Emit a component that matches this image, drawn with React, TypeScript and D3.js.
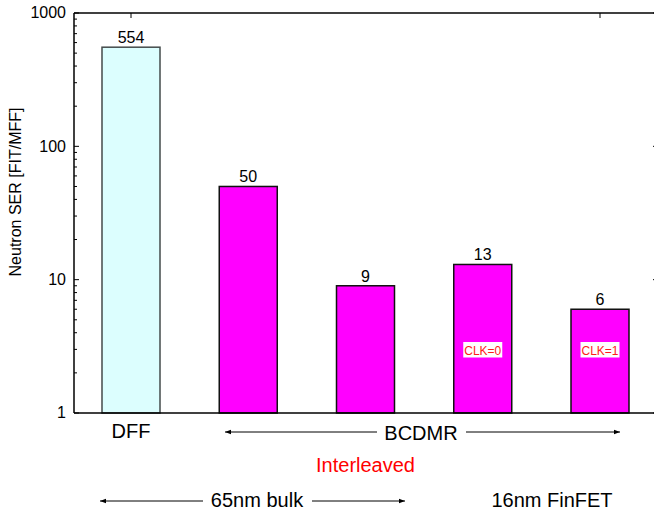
import React from "react";
import * as d3 from "d3";

const categories = ["DFF", "BCDMR 65nm", "BCDMR Interleaved", "BCDMR 16nm CLK=0", "BCDMR 16nm CLK=1"];
const values = [554, 50, 9, 13, 6];
const valueLabels = ["554", "50", "9", "13", "6"];
const fills = ["#dcfefe", "#ff00ff", "#ff00ff", "#ff00ff", "#ff00ff"];
const strokes = ["#444b4b", "#111111", "#111111", "#111111", "#111111"];
const innerLabels = ["", "", "", "CLK=0", "CLK=1"];
const yTicks = [1, 10, 100, 1000];
const yTickLabels = ["1", "10", "100", "1000"];

const W = 654;
const H = 512;
const FONT = "'Liberation Sans', Arial, Helvetica, sans-serif";

export default function App() {
  const y = d3.scaleLog().domain([1, 1000]).range([413, 13]);
  const x = d3.scalePoint<string>().domain(categories).range([131, 600]);
  const barW = 58;
  const left = 74;
  const right = 658;

  const minor: number[] = [];
  for (let dec = 1; dec < 1000; dec *= 10) {
    for (let k = 2; k <= 9; k++) minor.push(dec * k);
  }

  const arrow = (x1: number, x2: number, yy: number, gapL: number, gapR: number, key: string) => (
    <g key={key} stroke="#000" strokeWidth={1}>
      <line x1={x1} y1={yy} x2={gapL} y2={yy} />
      <line x1={gapR} y1={yy} x2={x2} y2={yy} />
      <path d={`M${x1},${yy} l6,-2.2 l0,4.4 z`} fill="#000" stroke="none" />
      <path d={`M${x2},${yy} l-6,-2.2 l0,4.4 z`} fill="#000" stroke="none" />
    </g>
  );

  return (
    <svg width={W} height={H} style={{ position: "absolute", left: 0, top: 0 }} fontFamily={FONT}>
      <rect x={0} y={0} width={W} height={H} fill="#fff" />
      {/* bars */}
      {categories.map((c, i) => {
        const cx = x(c)!;
        const top = y(values[i]);
        return (
          <g key={c}>
            <rect x={cx - barW / 2} y={top} width={barW} height={y(1) - top} fill={fills[i]} stroke={strokes[i]} strokeWidth={1.5} />
            <text x={cx} y={top - 4} textAnchor="middle" fontSize={16} fill="#000">{valueLabels[i]}</text>
            {innerLabels[i] && (
              <g>
                <rect x={cx - 19.5} y={342} width={39} height={15.5} fill="#fff" />
                <text x={cx} y={354.5} textAnchor="middle" fontSize={12} fill="#ff1a1a">{innerLabels[i]}</text>
              </g>
            )}
          </g>
        );
      })}
      {/* axes frame */}
      <line x1={left} y1={13} x2={left} y2={413} stroke="#000" strokeWidth={1.5} />
      <line x1={left} y1={413} x2={right} y2={413} stroke="#000" strokeWidth={1.5} />
      <line x1={left} y1={13} x2={right} y2={13} stroke="#000" strokeWidth={1.5} />
      <line x1={right} y1={13} x2={right} y2={413} stroke="#000" strokeWidth={1.5} />
      {/* top ticks */}
      {[categories[0], categories[4]].map((c) => (
        <line key={"tt" + c} x1={x(c)!} y1={13} x2={x(c)!} y2={18} stroke="#000" strokeWidth={1} />
      ))}
      {/* y ticks */}
      {yTicks.map((t, i) => (
        <g key={"yt" + t}>
          <line x1={left} y1={y(t)} x2={left + 5} y2={y(t)} stroke="#000" strokeWidth={1} />
          <line x1={right} y1={y(t)} x2={right - 5} y2={y(t)} stroke="#000" strokeWidth={1} />
          <text x={66} y={y(t)} dy="0.33em" textAnchor="end" fontSize={16} fill="#000">{yTickLabels[i]}</text>
        </g>
      ))}
      {minor.map((t) => (
        <g key={"mt" + t}>
          <line x1={left} y1={y(t)} x2={left + 3} y2={y(t)} stroke="#000" strokeWidth={1} />
          <line x1={right} y1={y(t)} x2={right - 3} y2={y(t)} stroke="#000" strokeWidth={1} />
        </g>
      ))}
      <text transform="translate(21,192) rotate(-90)" textAnchor="middle" fontSize={16} fill="#000">Neutron SER [FIT/MFF]</text>
      {/* bottom annotations */}
      <text x={x(categories[0])!} y={438} textAnchor="middle" fontSize={20} fill="#000">DFF</text>
      {arrow(225, 620, 432, 377, 466, "a1")}
      <text x={421} y={440} textAnchor="middle" fontSize={20} fill="#000">BCDMR</text>
      <text x={x(categories[2])!} y={472} textAnchor="middle" fontSize={20} fill="#ff0000">Interleaved</text>
      {arrow(100, 405, 501, 203, 312, "a2")}
      <text x={257} y={507} textAnchor="middle" fontSize={20} fill="#000">65nm bulk</text>
      <text x={552} y={507} textAnchor="middle" fontSize={20} fill="#000">16nm FinFET</text>
    </svg>
  );
}
